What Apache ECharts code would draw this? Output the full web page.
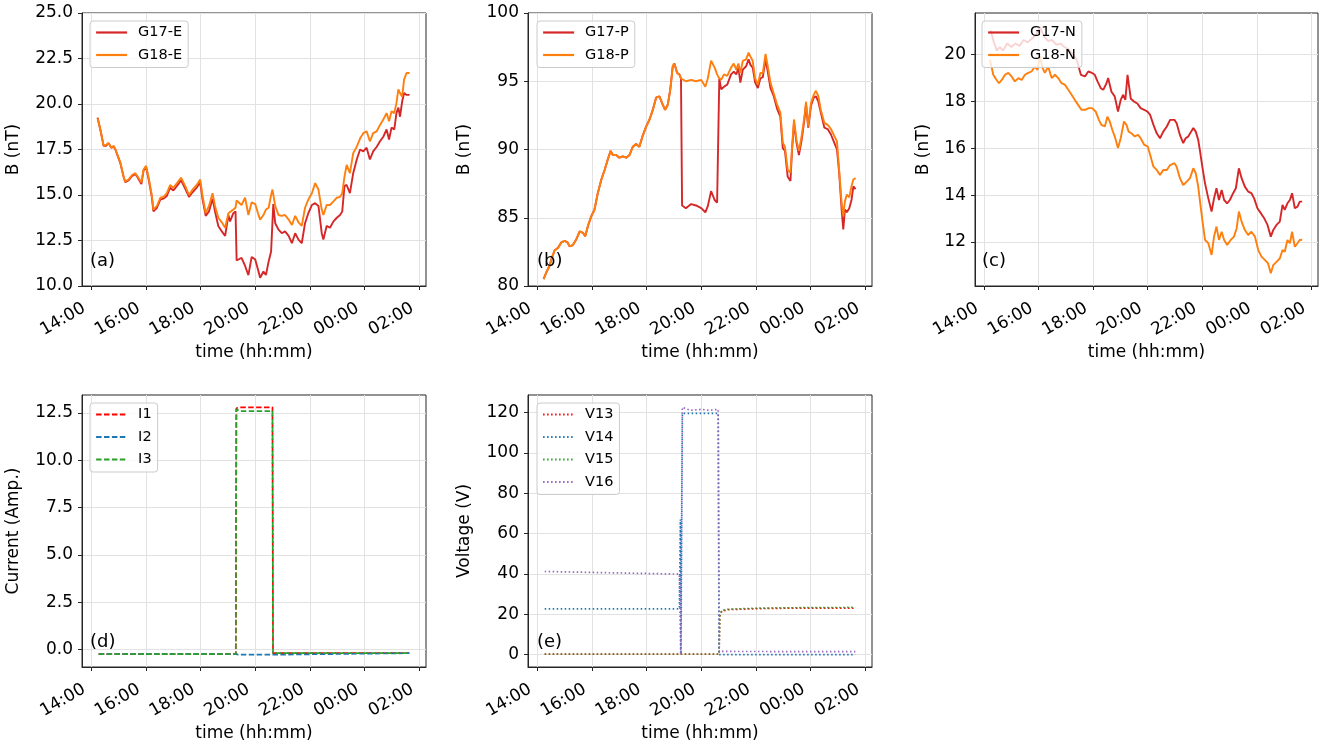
<!DOCTYPE html>
<html>
<head>
<meta charset="utf-8">
<script src="https://cdn.jsdelivr.net/npm/echarts@6.0.0/dist/echarts.min.js"></script>
<style>
  html, body { margin: 0; padding: 0; background: #fff; }
  #chart { width: 1325px; height: 750px; }
</style>
</head>
<body>
<div id="chart"></div>
<script>
// time is in hours after midnight of the first day (25.5 = 01:30 next day)

// (a) east component
const tE = [
  14.24, 14.34, 14.46, 14.55, 14.64, 14.74, 14.83, 14.89, 15.07, 15.19,
  15.25, 15.37, 15.50, 15.62, 15.71, 15.84, 15.92, 16.01, 16.10, 16.22,
  16.28, 16.41, 16.53, 16.65, 16.77, 16.89, 17.01, 17.14, 17.29, 17.44,
  17.58, 17.71, 17.86, 17.99, 18.07, 18.19, 18.31, 18.44, 18.53, 18.65,
  18.78, 18.90, 19.02, 19.08, 19.20, 19.28, 19.32, 19.38, 19.50, 19.63,
  19.75, 19.87, 20.00, 20.10, 20.18, 20.30, 20.39, 20.49, 20.58, 20.63,
  20.66, 20.73, 20.85, 20.97, 21.09, 21.22, 21.34, 21.46, 21.58, 21.70,
  21.82, 21.94, 22.07, 22.19, 22.31, 22.43, 22.49, 22.61, 22.73, 22.86,
  22.98, 23.10, 23.18, 23.26, 23.34, 23.46, 23.58, 23.71, 23.83, 23.95,
  24.07, 24.19, 24.31, 24.44, 24.56, 24.68, 24.80, 24.89, 24.98, 25.08,
  25.16, 25.23, 25.29, 25.37, 25.44, 25.53, 25.64
]
const g17E = [
  19.25, 18.6, 17.7, 17.7, 17.85, 17.6, 17.65, 17.5, 16.75, 16.0,
  15.7, 15.8, 16.05, 16.15, 15.95, 15.6, 16.35, 16.55, 15.9, 14.9,
  14.1, 14.3, 14.75, 14.8, 14.95, 15.4, 15.25, 15.5, 15.8, 15.35,
  14.9, 15.15, 15.4, 15.7, 14.8, 13.85, 14.1, 14.8, 14.1, 13.3,
  13.0, 12.75, 13.9, 13.55, 14.0, 14.1, 11.4, 11.35, 11.55, 11.1,
  10.6, 11.6, 11.45, 10.9, 10.45, 10.8, 10.6, 11.35, 11.9, 11.95,
  14.5, 13.45, 13.1, 12.9, 13.0, 12.75, 12.35, 12.9, 12.55, 12.35,
  13.45, 14.0, 14.45, 14.55, 14.4, 12.9, 12.55, 13.3, 13.2, 13.55,
  13.75, 13.9, 14.1, 15.5, 15.55, 15.1, 16.2, 16.95, 17.5, 17.4,
  17.6, 16.95, 17.4, 17.65, 17.95, 18.2, 18.6, 18.05, 18.7, 18.6,
  19.5, 19.8, 19.3, 20.15, 20.6, 20.5, 20.5
]
const g18E = [
  19.2, 18.6, 17.7, 17.75, 17.85, 17.6, 17.7, 17.5, 16.8, 16.0,
  15.75, 15.85, 16.1, 16.2, 16.0, 15.7, 16.4, 16.6, 16.0, 15.0,
  14.2, 14.4, 14.85, 14.9, 15.1, 15.55, 15.4, 15.65, 15.95, 15.5,
  15.0, 15.3, 15.55, 15.85, 15.0, 14.0, 14.4, 15.1, 14.4, 13.75,
  13.5, 13.2, 14.0, 14.0, 14.2, 14.3, 14.7, 14.75, 14.45, 14.85,
  13.9, 14.6, 14.5, 14.0, 13.65, 13.9, 14.2, 14.3, 15.0, 15.3,
  15.4, 14.4, 13.9, 13.85, 13.9, 13.65, 13.35, 13.85, 13.5, 13.3,
  14.3, 14.75, 15.1, 15.65, 15.3, 14.2, 13.9, 14.45, 14.45, 14.65,
  14.85, 14.9, 15.1, 16.0, 16.65, 16.2, 17.3, 17.65, 18.1, 18.4,
  18.5, 17.95, 18.4, 18.5, 18.85, 19.15, 19.5, 19.05, 19.6, 19.5,
  20.05, 20.8, 20.6, 20.4, 21.35, 21.7, 21.7
]

// (b) parallel component
const tP = [
  14.24, 14.34, 14.46, 14.55, 14.64, 14.77, 14.89, 15.01, 15.11, 15.19,
  15.31, 15.43, 15.56, 15.68, 15.76, 15.86, 15.98, 16.10, 16.22, 16.35,
  16.47, 16.59, 16.69, 16.77, 16.89, 17.01, 17.13, 17.26, 17.38, 17.50,
  17.62, 17.74, 17.86, 17.99, 18.11, 18.23, 18.35, 18.47, 18.59, 18.68,
  18.78, 18.87, 18.96, 19.02, 19.12, 19.20, 19.26, 19.30, 19.44, 19.63,
  19.81, 20.00, 20.15, 20.24, 20.36, 20.49, 20.58, 20.63, 20.66, 20.73,
  20.83, 20.95, 21.09, 21.19, 21.28, 21.36, 21.43, 21.52, 21.64, 21.73,
  21.80, 21.88, 21.97, 22.07, 22.16, 22.25, 22.35, 22.43, 22.53, 22.65,
  22.77, 22.89, 22.98, 23.06, 23.16, 23.26, 23.32, 23.39, 23.48, 23.57,
  23.67, 23.77, 23.83, 23.91, 24.01, 24.11, 24.19, 24.28, 24.37, 24.50,
  24.62, 24.74, 24.86, 24.96, 25.04, 25.13, 25.19, 25.25, 25.32, 25.41,
  25.49, 25.56, 25.64
]
const g17P = [
  80.5, 81.0, 81.5, 82.1, 82.6, 82.8, 83.2, 83.3, 83.2, 82.9,
  83.0, 83.4, 84.0, 83.9, 83.65, 84.4, 85.1, 85.6, 86.8, 87.8,
  88.5, 89.3, 89.9, 89.6, 89.6, 89.4, 89.5, 89.4, 89.6, 90.2,
  90.4, 90.2, 91.0, 91.7, 92.2, 92.9, 93.8, 93.9, 93.3, 92.9,
  93.3, 94.4, 96.1, 96.3, 95.6, 95.5, 95.2, 85.9, 85.7, 86.0,
  85.9, 85.7, 85.4, 85.85, 86.95, 86.3, 86.1, 86.1, 95.2, 94.4,
  94.6, 94.75, 95.5, 95.7, 95.5, 96.0, 94.9, 95.85, 96.1, 96.6,
  96.2, 96.0, 94.9, 94.5, 95.2, 95.3, 96.6, 95.7, 94.5, 93.9,
  93.0, 92.4, 90.1, 89.9, 88.0, 87.7, 90.0, 91.95, 90.5, 89.6,
  90.7, 92.2, 93.3, 91.6, 93.2, 93.8, 93.9, 93.5, 92.7, 91.6,
  91.5, 91.1, 90.5, 90.0, 88.3, 85.6, 84.15, 85.6, 85.4, 85.7,
  86.3, 87.3, 87.1
]
const g18P = [
  80.5, 81.0, 81.5, 82.1, 82.6, 82.8, 83.2, 83.3, 83.2, 82.9,
  83.0, 83.4, 84.0, 83.9, 83.65, 84.4, 85.1, 85.6, 86.8, 87.8,
  88.5, 89.3, 89.9, 89.6, 89.6, 89.4, 89.5, 89.4, 89.6, 90.2,
  90.4, 90.2, 91.0, 91.7, 92.2, 92.9, 93.8, 93.9, 93.3, 92.9,
  93.3, 94.4, 96.1, 96.3, 95.6, 95.5, 95.2, 95.1, 95.0, 95.1,
  95.0, 95.1, 94.6, 95.2, 96.5, 96.0, 95.5, 95.3, 95.2, 95.1,
  95.5, 95.4, 96.0, 96.3, 95.85, 96.3, 95.6, 96.5, 96.6, 97.1,
  96.8, 96.5, 95.2, 94.75, 95.6, 95.6, 97.0, 96.1, 94.9, 94.1,
  93.3, 92.7, 90.5, 90.2, 88.5, 88.3, 90.2, 92.2, 90.7, 89.9,
  91.0, 92.4, 93.5, 91.7, 93.4, 94.0, 94.3, 93.9, 92.9, 91.95,
  91.8, 91.5, 91.0, 90.6, 88.5, 86.1, 85.1, 86.2, 86.7, 86.5,
  87.3, 87.8, 87.9
]

// (c) normal component
const tN17 = [
  14.25, 14.35, 14.47, 14.58, 14.70, 14.85, 15.00, 15.15, 15.30, 15.45,
  15.60, 15.75, 15.90, 16.05, 16.20, 16.35, 16.50, 16.65, 16.80, 16.95,
  17.10, 17.25, 17.40, 17.55, 17.70, 17.82, 17.96, 18.06, 18.16, 18.28,
  18.37, 18.49, 18.55, 18.67, 18.79, 18.91, 19.01, 19.10, 19.18, 19.26,
  19.32, 19.38, 19.50, 19.62, 19.74, 19.87, 19.99, 20.09, 20.21, 20.33,
  20.45, 20.57, 20.70, 20.82, 20.98, 21.06, 21.18, 21.30, 21.39, 21.49,
  21.59, 21.67, 21.76, 21.85, 21.91, 22.00, 22.10, 22.22, 22.34, 22.43,
  22.52, 22.61, 22.71, 22.80, 22.91, 23.01, 23.13, 23.23, 23.34, 23.44,
  23.56, 23.68, 23.80, 23.90, 24.02, 24.15, 24.27, 24.39, 24.51, 24.60,
  24.72, 24.84, 24.94, 25.02, 25.12, 25.21, 25.29, 25.39, 25.49, 25.57,
  25.66
]
const g17N = [
  21.0, 20.55, 20.15, 20.3, 20.15, 20.45, 20.3, 20.45, 20.35, 20.6,
  20.5, 20.65, 20.8, 21.15, 20.75, 20.55, 20.6, 20.4, 20.45, 20.3,
  20.2, 20.0, 19.75, 19.12, 19.05, 19.26, 19.2, 19.12, 18.84, 18.55,
  18.48, 18.76, 18.98, 18.4, 18.2, 17.56, 18.05, 18.27, 18.05, 19.12,
  18.6, 18.1, 17.98, 17.9, 17.7, 17.63, 17.55, 17.41, 16.99, 16.63,
  16.42, 16.7, 16.92, 17.2, 17.2, 17.06, 16.56, 16.21, 16.42, 16.5,
  16.7, 16.85, 16.7, 16.35, 15.92, 15.21, 14.5, 13.86, 13.3, 13.86,
  14.29, 13.79, 14.22, 13.79, 13.65, 13.79, 14.08, 14.29, 15.14, 14.72,
  14.36, 14.15, 14.08, 13.86, 13.44, 13.22, 13.01, 12.73, 12.23, 12.51,
  12.73, 12.87, 13.58, 13.37, 13.65, 13.79, 14.08, 13.44, 13.51, 13.72,
  13.72
]
const tN18 = [
  14.22, 14.34, 14.46, 14.55, 14.65, 14.77, 14.89, 15.01, 15.13, 15.26,
  15.38, 15.50, 15.62, 15.74, 15.87, 15.96, 16.05, 16.15, 16.23, 16.35,
  16.48, 16.60, 16.72, 16.84, 16.96, 17.09, 17.21, 17.33, 17.45, 17.57,
  17.70, 17.84, 17.96, 18.09, 18.21, 18.30, 18.43, 18.52, 18.61, 18.70,
  18.79, 18.91, 19.01, 19.13, 19.22, 19.30, 19.40, 19.52, 19.65, 19.74,
  19.87, 20.00, 20.09, 20.21, 20.33, 20.45, 20.57, 20.70, 20.82, 20.98,
  21.06, 21.18, 21.30, 21.43, 21.55, 21.67, 21.76, 21.85, 21.91, 22.00,
  22.10, 22.22, 22.34, 22.43, 22.52, 22.61, 22.71, 22.80, 22.91, 23.04,
  23.16, 23.26, 23.34, 23.44, 23.56, 23.68, 23.80, 23.93, 24.05, 24.17,
  24.29, 24.41, 24.51, 24.60, 24.72, 24.84, 24.94, 25.02, 25.12, 25.21,
  25.29, 25.39, 25.49, 25.57, 25.66
]
const g18N = [
  19.76, 19.12, 18.9, 18.76, 18.9, 19.12, 19.2, 19.05, 18.84, 18.98,
  18.9, 19.12, 19.2, 19.26, 19.47, 19.33, 19.9, 19.4, 19.2, 19.47,
  18.98, 19.12, 18.98, 18.76, 18.7, 18.48, 18.27, 18.05, 17.84, 17.63,
  17.63, 17.7, 17.7, 17.56, 17.2, 16.99, 16.92, 17.34, 17.13, 16.78,
  16.5, 16.0, 16.42, 17.13, 16.99, 16.7, 16.63, 16.5, 16.56, 16.42,
  16.14, 16.07, 15.71, 15.21, 15.07, 14.86, 15.07, 15.07, 15.28, 15.36,
  15.21, 14.72, 14.43, 14.57, 14.72, 15.14, 14.93, 14.36, 13.79, 12.94,
  12.09, 11.95, 11.45, 12.23, 12.66, 12.09, 12.44, 12.09, 11.88, 12.09,
  12.23, 12.59, 13.3, 12.87, 12.51, 12.3, 12.44, 12.23, 11.66, 11.38,
  11.24, 11.09, 10.67, 11.02, 11.16, 11.3, 11.66, 11.59, 12.09, 11.95,
  12.44, 11.8, 11.95, 12.09, 12.1
]

// (d) currents
const tI = [14.28, 19.29, 19.31, 19.42, 20.63, 20.65, 25.63]
const i1 = [-0.25, -0.25, 12.75, 12.8, 12.8, -0.2, -0.2]
const i2 = [-0.25, -0.25, -0.28, -0.28, -0.28, -0.22, -0.2]
const i3 = [-0.25, -0.25, 12.7, 12.6, 12.6, -0.2, -0.2]

// (e) voltages
const tV13 = [14.28, 20.65, 20.68, 20.75, 21.0, 22.0, 23.0, 24.0, 25.63]
const v13 = [0.3, 0.3, 19.0, 21.5, 22.3, 22.8, 23.0, 23.1, 23.0]
const tV14 = [14.28, 19.2, 19.24, 19.26, 19.31, 20.0, 20.62, 20.65, 25.63]
const v14 = [22.7, 22.7, 67.0, 0.5, 119.5, 119.5, 119.5, 0.0, 0.0]
const tV15 = [14.28, 20.65, 20.68, 20.75, 21.0, 22.0, 23.0, 24.0, 25.63]
const v15 = [0.3, 0.3, 19.5, 22.0, 22.5, 23.0, 23.2, 23.3, 23.4]
const tV16 = [14.28, 19.2, 19.25, 19.31, 19.6, 20.0, 20.3, 20.62, 20.66, 25.63]
const v16 = [41.2, 39.9, 0.0, 122.5, 121.0, 121.5, 121.0, 121.5, 1.6, 1.5]

const xTicks = [14, 16, 18, 20, 22, 24, 26]

const FONT = 'DejaVu Sans'
const INK = '#262626'
const RED = '#d62728'
const ORANGE = '#ff7f0e'

let pairs = (t, v) => t.map((x, i) => [x, v[i]])
let hhmm = v => String(Math.round(v) % 24).padStart(2, '0') + ':00'

let grids = [
  { left: 82, top: 13, width: 344, height: 273 },
  { left: 528, top: 13, width: 344, height: 273 },
  { left: 975, top: 13, width: 343, height: 273 },
  { left: 82, top: 395, width: 344, height: 272 },
  { left: 528, top: 395, width: 344, height: 272 }
].map(g => Object.assign({ show: true, borderColor: INK, borderWidth: 1, backgroundColor: 'transparent' }, g))

function xAxis (i) {
  return {
    type: 'value',
    gridIndex: i,
    min: 13.67,
    max: 26.24,
    name: 'time (hh:mm)',
    nameLocation: 'middle',
    nameGap: 58,
    nameTextStyle: { fontFamily: FONT, fontSize: 17, color: '#000' },
    axisLine: { show: true, onZero: false, lineStyle: { color: INK, width: 1 } },
    axisTick: { show: true, length: 4, customValues: xTicks, lineStyle: { color: INK } },
    axisLabel: {
      customValues: xTicks,
      rotate: 30,
      margin: 17,
      padding: [0, 8, 0, 0],
      formatter: hhmm,
      fontFamily: FONT,
      fontSize: 17,
      color: '#000'
    },
    splitLine: { show: true, lineStyle: { color: '#e2e2e2', width: 1 } }
  }
}

function yAxis (i, name, min, max, ticks, digits, gap) {
  return {
    type: 'value',
    gridIndex: i,
    min: min,
    max: max,
    name: name,
    nameLocation: 'middle',
    nameGap: gap,
    nameTextStyle: { fontFamily: FONT, fontSize: 17, color: '#000' },
    axisLine: { show: true, lineStyle: { color: INK, width: 1 } },
    axisTick: { show: true, length: 4, customValues: ticks, lineStyle: { color: INK } },
    axisLabel: {
      customValues: ticks,
      margin: 9,
      formatter: v => v.toFixed(digits),
      fontFamily: FONT,
      fontSize: 17,
      color: '#000'
    },
    splitLine: { show: true, lineStyle: { color: '#e2e2e2', width: 1 } }
  }
}

function line (name, i, t, v, color, dash) {
  return {
    type: 'line',
    name: name,
    xAxisIndex: i,
    yAxisIndex: i,
    data: pairs(t, v),
    symbol: 'none',
    animation: false,
    itemStyle: { color: color },
    lineStyle: { color: color, width: dash ? 1.7 : 1.9, type: dash || 'solid', cap: 'butt' }
  }
}

function legend (names, left, top) {
  return {
    data: names,
    orient: 'vertical',
    left: left,
    top: top,
    selectedMode: false,
    itemWidth: 31,
    itemHeight: 14,
    itemGap: 7.5,
    padding: [4, 6, 5, 5],
    backgroundColor: 'rgba(255,255,255,0.8)',
    borderColor: '#cccccc',
    borderWidth: 1,
    borderRadius: 3,
    // hide the marker, keep only the line
    itemStyle: { opacity: 0 },
    lineStyle: { width: 2.2 },
    textStyle: { fontFamily: FONT, fontSize: 14.5, color: '#000', padding: [0, 0, 0, 6] }
  }
}

function tag (text, x, y) {
  return {
    type: 'text',
    left: x,
    top: y,
    z: 10,
    style: { text: text, fontFamily: FONT, fontSize: 18, fill: '#000' }
  }
}

const DASH = [5.5, 2.4]
const DOT = [1.5, 2.5]

let option = {
  backgroundColor: '#fff',
  animation: false,
  grid: grids,
  xAxis: [0, 1, 2, 3, 4].map(xAxis),
  yAxis: [
    yAxis(0, 'B (nT)', 10, 25, [10, 12.5, 15, 17.5, 20, 22.5, 25], 1, 60),
    yAxis(1, 'B (nT)', 80, 100, [80, 85, 90, 95, 100], 0, 55),
    yAxis(2, 'B (nT)', 10.13, 21.75, [12, 14, 16, 18, 20], 0, 43),
    yAxis(3, 'Current (Amp.)', -0.93, 13.45, [0, 2.5, 5, 7.5, 10, 12.5], 1, 60),
    yAxis(4, 'Voltage (V)', -6.1, 128.6, [0, 20, 40, 60, 80, 100, 120], 0, 55)
  ],
  legend: [
    legend(['G17-E', 'G18-E'], 90, 21),
    legend(['G17-P', 'G18-P'], 537, 21),
    legend(['G17-N', 'G18-N'], 982, 21),
    legend(['I1', 'I2', 'I3'], 90, 403),
    legend(['V13', 'V14', 'V15', 'V16'], 537, 403)
  ],
  graphic: [
    tag('(a)', 90, 252),
    tag('(b)', 537, 252),
    tag('(c)', 982, 252),
    tag('(d)', 90, 633),
    tag('(e)', 537, 633)
  ],
  series: [
    line('G17-E', 0, tE, g17E, RED),
    line('G18-E', 0, tE, g18E, ORANGE),
    line('G17-P', 1, tP, g17P, RED),
    line('G18-P', 1, tP, g18P, ORANGE),
    line('G17-N', 2, tN17, g17N, RED),
    line('G18-N', 2, tN18, g18N, ORANGE),
    line('I1', 3, tI, i1, '#ff0000', DASH),
    line('I2', 3, tI, i2, '#1f77b4', DASH),
    line('I3', 3, tI, i3, '#2ca02c', DASH),
    line('V13', 4, tV13, v13, '#ff0000', DOT),
    line('V14', 4, tV14, v14, '#1f77b4', DOT),
    line('V15', 4, tV15, v15, '#2ca02c', DOT),
    line('V16', 4, tV16, v16, '#9467bd', DOT)
  ]
}

let chart = echarts.init(document.getElementById('chart'))
chart.setOption(option)
</script>
</body>
</html>
